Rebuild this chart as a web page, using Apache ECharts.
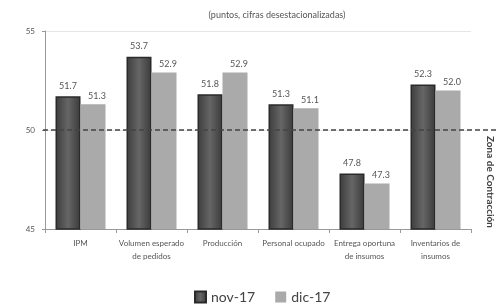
<!DOCTYPE html>
<html>
<head>
<meta charset="utf-8">
<script src="https://cdn.jsdelivr.net/npm/echarts@6/dist/echarts.min.js"></script>
<style>
  html, body { margin: 0; padding: 0; background: #fff; }
  #chart { width: 499px; height: 305px; }
</style>
</head>
<body>
<div id="chart"></div>
<script>
var categories = ['IPM', 'Volumen esperado\nde pedidos', 'Producción', 'Personal ocupado', 'Entrega oportuna\nde insumos', 'Inventarios de\ninsumos'];
var nov17 = [51.7, 53.7, 51.8, 51.3, 47.8, 52.3];
var dic17 = [51.3, 52.9, 52.9, 51.1, 47.3, 52.0];
var threshold = 50;

var font = 'Lato, "Liberation Sans", sans-serif';

var chart = echarts.init(document.getElementById('chart'));

var darkFill = new echarts.graphic.LinearGradient(0, 0, 1, 0, [
    { offset: 0, color: '#3c3c3c' },
    { offset: 0.5, color: '#666666' },
    { offset: 1, color: '#3a3a3a' }
]);

var option = {
    backgroundColor: '#fff',
    animation: false,
    textStyle: { fontFamily: font },
    title: {
        text: '(puntos, cifras desestacionalizadas)',
        left: 272,
        top: 6,
        textAlign: 'center',
        textStyle: { fontSize: 9, fontWeight: 'normal', color: '#555', fontFamily: font }
    },
    legend: {
        bottom: -4,
        left: 189,
        itemWidth: 11,
        itemHeight: 11,
        itemGap: 20,
        icon: 'rect',
        textStyle: { fontSize: 14, color: '#444', fontFamily: font },
        data: ['nov-17', 'dic-17']
    },
    grid: {
        left: 45,
        right: 28,
        top: 31,
        bottom: 76
    },
    xAxis: {
        type: 'category',
        data: categories,
        axisLine: { lineStyle: { color: '#999' } },
        axisTick: { show: true, length: 4, lineStyle: { color: '#999' } },
        axisLabel: { fontSize: 8, color: '#555', lineHeight: 13, margin: 8, interval: 0 }
    },
    yAxis: {
        type: 'value',
        min: 45,
        max: 55,
        interval: 5,
        axisLine: { show: true, lineStyle: { color: '#999' } },
        axisTick: { show: true, length: 3, lineStyle: { color: '#999' } },
        splitLine: { show: true, lineStyle: { color: '#e6e6e6' } },
        axisLabel: { fontSize: 8, color: '#555', margin: 10 }
    },
    series: [
        {
            name: 'nov-17',
            type: 'bar',
            data: nov17,
            barWidth: 25,
            barGap: '0%',
            itemStyle: { color: darkFill, borderColor: '#2a2a2a', borderWidth: 1.5 },
            label: {
                show: true,
                position: 'top',
                distance: 6,
                fontSize: 9,
                color: '#555',
                formatter: function (p) { return p.value.toFixed(1); }
            }
        },
        {
            name: 'dic-17',
            type: 'bar',
            data: dic17,
            barWidth: 25,
            itemStyle: { color: '#aaaaaa' },
            label: {
                show: true,
                position: 'top',
                distance: 4,
                fontSize: 9,
                color: '#555',
                offset: [4, 0],
                formatter: function (p) { return p.value.toFixed(1); }
            }
        }
    ]
};

chart.setOption(option);

// dashed reference line at 50, drawn past the plot to the right edge
var yLine = chart.convertToPixel({ yAxisIndex: 0 }, threshold);
chart.setOption({
    graphic: [
        {
            type: 'line',
            shape: { x1: 43, y1: yLine, x2: 499, y2: yLine },
            style: { stroke: '#444', lineWidth: 1.5, lineDash: [5, 3] },
            z: 10
        },
        {
            type: 'text',
            x: 495,
            y: 136,
            rotation: -Math.PI / 2,
            style: {
                text: 'Zona de Contracción',
                fontSize: 10,
                fontWeight: 'bold',
                fill: '#444',
                fontFamily: font
            }
        }
    ]
});
</script>
</body>
</html>
